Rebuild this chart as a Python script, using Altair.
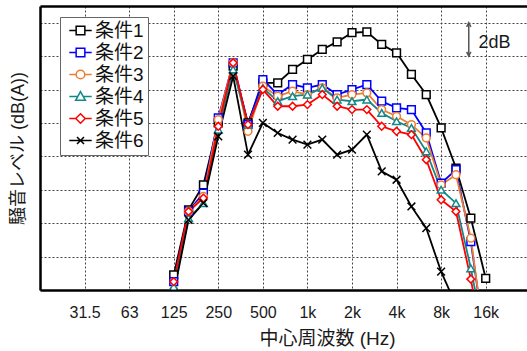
import altair as alt
import pandas as pd

# 1/3-octave band centre frequencies (125 Hz .. 16 kHz)
bands = ["125", "160", "200", "250", "315", "400", "500", "630", "800", "1k",
         "1.25k", "1.6k", "2k", "2.5k", "3.15k", "4k", "5k", "6.3k", "8k",
         "10k", "12.5k", "16k"]

cond_names = ["条件1", "条件2", "条件3", "条件4", "条件5", "条件6"]

cond1 = [0.9, 4.8, 6.3, 10.0, 13.4, 10.0, 12.4, 12.4, 13.2, 13.8, 14.4, 14.85,
         15.4, 15.45, 14.7, 14.2, 12.9, 11.7, 9.7, 7.3, 4.3, 0.7]
cond2 = [0.5, 4.7, 5.8, 10.3, 13.6, 9.9, 12.6, 11.7, 12.3, 12.1, 12.3, 11.7,
         12.0, 12.3, 11.3, 10.9, 10.8, 9.4, 6.4, 7.2, 2.9, -3.4]
cond3 = [0.0, 4.7, 5.6, 10.2, 13.6, 9.5, 12.2, 11.6, 11.9, 11.7, 12.1, 11.5,
         11.7, 11.8, 10.8, 10.4, 9.9, 9.1, 6.3, 6.9, 3.1, -3.5]
cond4 = [0.2, 4.3, 5.2, 9.6, 13.2, 9.9, 12.1, 11.3, 11.6, 11.7, 12.1, 11.4,
         11.3, 11.4, 10.6, 10.1, 9.7, 8.3, 6.0, 5.2, 1.3, -3.3]
cond5 = [0.5, 4.7, 5.5, 9.8, 13.6, 9.9, 12.0, 11.0, 11.0, 11.1, 11.7, 11.0,
         10.8, 10.8, 9.8, 9.5, 9.3, 7.8, 5.4, 4.7, 0.65, -4.3]
cond6 = [-0.2, 4.2, 5.2, 9.2, 12.8, 8.1, 10.0, 9.4, 9.0, 8.7, 9.0, 8.1,
         8.4, 9.3, 7.1, 6.6, 5.0, 3.7, 1.1, -0.9, None, None]

series = [cond1, cond2, cond3, cond4, cond5, cond6]
colors = ["#000000", "#0000FF", "#ED7D31", "#12888A", "#FF0000", "#000000"]

# octave tick labels on the x axis (31.5 Hz .. 16 kHz)
octave_labels = ["31.5", "63", "125", "250", "500", "1k", "2k", "4k", "8k", "16k"]
y_grid = [0, 2, 4, 6, 8, 10, 12, 14, 16]

# "2dB" scale annotation
ann_text = ["2dB"]
ann_lo = [14]
ann_hi = [16]

rows = []
for name, vals in zip(cond_names, series):
    for i, (b, v) in enumerate(zip(bands, vals)):
        if v is not None:
            rows.append({"cond": name, "band": b, "pos": i, "value": v})
df = pd.DataFrame(rows)

# octave positions in 1/3-octave band units (125 Hz = 0)
first_octave = bands.index("125") - 3 * octave_labels.index("125")
tick_pos = [first_octave + 3 * k for k in range(len(octave_labels))]
label_expr = "[" + ",".join(f"'{s}'" for s in octave_labels) + "][(datum.value - (%d)) / 3]" % first_octave

ann_pos = bands.index("10k") + 0.86
ann_df = pd.DataFrame({"pos": [ann_pos], "lo": ann_lo, "hi": ann_hi, "t": ann_text,
                       "tp": [ann_pos + 0.65], "ty": [(ann_lo[0] + ann_hi[0]) / 2 - 0.2]})

FONT = "Liberation Sans, Noto Sans CJK JP"
xscale = alt.Scale(domain=[-9, 23.78], nice=False, zero=False)
yscale = alt.Scale(domain=[0, 17], nice=False, zero=False)
color_scale = alt.Scale(domain=cond_names, range=colors)

data_shapes = ["square", "square", "circle", "triangle-up", "diamond", "M-1,-1L1,1M-1,1L1,-1"]

legend_paths = [
    "M-1.6,0H-0.62M0.62,0H1.6M-0.62,-0.62H0.62V0.62H-0.62Z",
    "M-1.6,0H-0.62M0.62,0H1.6M-0.62,-0.62H0.62V0.62H-0.62Z",
    "M-1.6,0H-0.62M0.62,0H1.6M-0.62,0A0.62,0.62 0 1,0 0.62,0A0.62,0.62 0 1,0 -0.62,0Z",
    "M-1.6,0H-0.4M0.4,0H1.6M0,-0.7L0.7,0.55H-0.7Z",
    "M-1.6,0H-0.68M0.68,0H1.6M0,-0.68L0.68,0L0,0.68L-0.68,0Z",
    "M-1.6,0H1.6M-0.5,-0.5L0.5,0.5M-0.5,0.5L0.5,-0.5",
]

x_main = alt.X("pos:Q", scale=xscale, axis=alt.Axis(
    values=tick_pos, labelExpr=label_expr, title="中心周波数 (Hz)",
    grid=True, gridDash=[2, 2], gridColor="#444", gridWidth=1,
    ticks=False, tickSize=0, domainColor="#000", domainWidth=2.5,
    labelFont=FONT, labelFontSize=16, labelColor="#1a1a1a", labelPadding=14,
    titleFont=FONT, titleFontSize=19, titleFontWeight="normal", titleColor="#1a1a1a",
    titleX=287, titleY=48, titleBaseline="middle", titleAlign="center"))
y_main = alt.Y("value:Q", scale=yscale, axis=alt.Axis(
    values=y_grid, labels=False, ticks=False, tickSize=0,
    grid=True, gridDash=[2, 2], gridColor="#444", gridWidth=1,
    domainColor="#000", domainWidth=2.5,
    title="騒音レベル (dB(A))", titleFont=FONT, titleFontSize=18,
    titleFontWeight="normal", titleColor="#1a1a1a", titlePadding=13))

lines = alt.Chart(df).mark_line(clip=True, strokeWidth=1.8).encode(
    x=x_main, y=y_main,
    stroke=alt.Stroke("cond:N", scale=color_scale, legend=None),
)

points = alt.Chart(df).mark_point(clip=True, filled=False, fill="white", size=60,
                                  strokeWidth=1.5, opacity=1).encode(
    x=alt.X("pos:Q", scale=xscale, axis=None),
    y=alt.Y("value:Q", scale=yscale, axis=None),
    stroke=alt.Stroke("cond:N", scale=color_scale, legend=None),
    shape=alt.Shape("cond:N", scale=alt.Scale(domain=cond_names, range=data_shapes), legend=None),
)

legend_layer = alt.Chart(df).mark_point(filled=False, fill="white", opacity=0, strokeWidth=1.5).encode(
    x=alt.X("pos:Q", scale=xscale, axis=alt.Axis(orient="top", labels=False, ticks=False, tickSize=0,
                                                  grid=False, domainColor="#000", domainWidth=2.5, title=None)),
    y=alt.Y("value:Q", scale=yscale, axis=None),
    stroke=alt.Stroke("cond:N", scale=color_scale, legend=alt.Legend(
        title=None, orient="none", legendX=20, legendY=11, padding=4, rowPadding=2,
        symbolSize=196, symbolStrokeWidth=1.5, symbolOpacity=1, symbolFillColor="white",
        symbolOffset=7, labelOffset=5, labelFont=FONT, labelFontSize=19, labelColor="#111",
        labelExpr="datum.label + '\u2002'",
        strokeColor="#666", fillColor="white", cornerRadius=0)),
    shape=alt.Shape("cond:N", scale=alt.Scale(domain=cond_names, range=legend_paths)),
)

arrow = alt.Chart(ann_df).mark_rule(color="#555", strokeWidth=1.5).encode(
    x=alt.X("pos:Q", scale=xscale, axis=None),
    y=alt.Y("lo:Q", scale=yscale, axis=None), y2="hi:Q")
head_top = alt.Chart(ann_df).mark_point(shape="M-0.6,1.2L0,0L0.6,1.2", size=49, filled=False,
                                        color="#555", strokeWidth=1.5, opacity=1).encode(
    x=alt.X("pos:Q", scale=xscale, axis=None), y=alt.Y("hi:Q", scale=yscale, axis=None))
head_bot = alt.Chart(ann_df).mark_point(shape="M-0.6,-1.2L0,0L0.6,-1.2", size=49, filled=False,
                                        color="#555", strokeWidth=1.5, opacity=1).encode(
    x=alt.X("pos:Q", scale=xscale, axis=None), y=alt.Y("lo:Q", scale=yscale, axis=None))
ann_label = alt.Chart(ann_df).mark_text(align="left", baseline="middle", font=FONT,
                                        fontSize=18, color="#1a1a1a").encode(
    x=alt.X("tp:Q", scale=xscale, axis=None), y=alt.Y("ty:Q", scale=yscale, axis=None), text="t:N")

chart = alt.layer(lines, points, legend_layer, arrow, head_top, head_bot, ann_label).resolve_scale(
    stroke="independent", shape="independent"
).resolve_axis(x="independent", y="independent").resolve_legend(
    stroke="independent", shape="independent"
).properties(
    width=487, height=284,
    padding={"left": 40, "top": 6, "right": 0, "bottom": 61},
    autosize=alt.AutoSizeParams(type="none"),
    background="white",
).configure_view(stroke=None)

chart.save("out.html", embed_options={"renderer": "svg", "actions": False})
